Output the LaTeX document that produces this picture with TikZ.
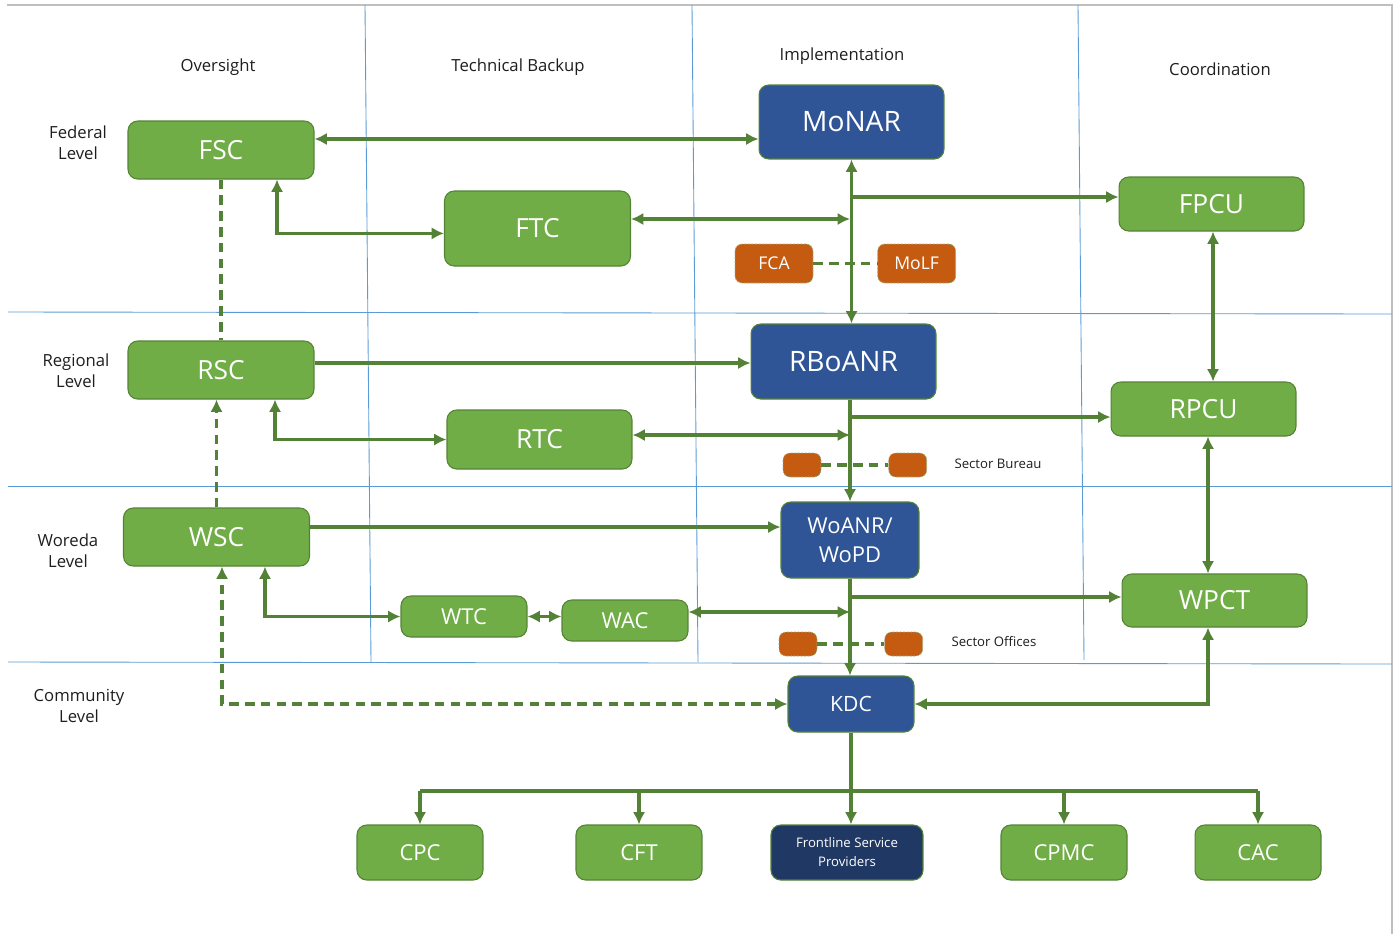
\documentclass[tikz,border=0pt]{standalone}
\usepackage{fontspec}
\setmainfont{Open Sans}
\usepackage{tikz}
\usetikzlibrary{arrows.meta,positioning}
\definecolor{leafgreen}{RGB}{112,173,71}
\definecolor{leafedge}{RGB}{84,130,53}
\definecolor{linkgreen}{RGB}{83,129,53}
\definecolor{ministry}{RGB}{47,85,151}
\definecolor{navy}{RGB}{32,56,100}
\definecolor{rust}{RGB}{197,90,17}
\definecolor{laneblue}{RGB}{91,155,213}
\definecolor{framegray}{RGB}{191,191,191}
\definecolor{labelgray}{RGB}{30,30,30}
\tikzstyle{committee} = [rectangle, rounded corners=5.5pt, draw=leafedge, line width=0.6pt, fill=leafgreen, text=white, align=center, inner sep=0pt, font=\fontsize{15}{18}\selectfont, minimum width=3.72cm, minimum height=1.16cm]
\tikzstyle{office} = [committee, fill=ministry, font=\fontsize{16}{19}\selectfont, minimum width=3.7cm, minimum height=1.48cm]
\tikzstyle{unit} = [committee, font=\fontsize{12.5}{15}\selectfont, minimum width=2.52cm, minimum height=0.82cm]
\tikzstyle{agency} = [rectangle, rounded corners=4pt, draw=leafedge!60, dash pattern=on 1.2pt off 0.8pt, line width=0.4pt, fill=rust, text=white, inner sep=0pt, font=\fontsize{10}{12}\selectfont, minimum width=1.56cm, minimum height=0.78cm]
\tikzstyle{lanelabel} = [draw=none, fill=none, text=labelgray, align=center, font=\fontsize{9.5}{12}\selectfont]
\tikzstyle{laneline} = [draw=laneblue, line width=0.5pt]
\tikzstyle{tedge} = [draw=linkgreen, line width=2.1pt, >={Latex[length=7pt,width=7pt]}]
\tikzstyle{dedge} = [tedge, dash pattern=on 5.5pt off 3.5pt]

\begin{document}
\begin{tikzpicture}[x=0.02cm, y=-0.02cm]
\useasboundingbox (0,0) rectangle (1396,934);

% lanes and levels =============================
\draw[framegray, line width=0.6pt] (7,5) -- (1392,5) -- (1392,934);
\draw[laneline] (365,5) -- (371,662);
\draw[laneline] (692,5) -- (698,662);
\draw[laneline] (1078,5) -- (1084,660);
\draw[laneline] (8,312) -- (1392,314);
\draw[laneline] (8,486) -- (1392,486);
\draw[laneline] (8,662) -- (1392,664);

\node[lanelabel] (oversight) at (218,67) {Oversight};
\node[lanelabel] (backup) at (518,67) {Technical Backup};
\node[lanelabel] (implement) at (842,56) {Implementation};
\node[lanelabel] (coordinate) at (1220,69) {Coordination};
\node[lanelabel] (federal) at (78,143) {Federal\\Level};
\node[lanelabel] (regional) at (76,371) {Regional\\Level};
\node[lanelabel] (woreda) at (68,551) {Woreda\\Level};
\node[lanelabel] (community) at (79,706) {Community\\Level};

% federal =============================
\node[committee] (fsc) at (221,150) {FSC};
\node[office] (monar) at (851.5,122) {MoNAR};
\node[committee, minimum height=1.5cm] (ftc) at (537.5,228.5) {FTC};
\node[committee, minimum width=3.7cm, minimum height=1.08cm] (fpcu) at (1211.5,204) {FPCU};
\node[agency] (fca) at (774,263.5) {FCA};
\node[agency, right=1.28cm of fca] (molf) {MoLF};

% regional =============================
\node[committee] (rsc) at (221,370) {RSC};
\node[office, minimum height=1.5cm] (rboanr) at (843.5,361.5) {RBoANR};
\node[committee, minimum width=3.7cm, minimum height=1.08cm] (rpcu) at (1203.5,409) {RPCU};
\node[committee, minimum width=3.7cm, minimum height=1.18cm] (rtc) at (539.5,439.5) {RTC};
\node[agency, minimum width=0.76cm, minimum height=0.48cm] (bureauA) at (802,465) {};
\node[agency, minimum width=0.76cm, minimum height=0.48cm, right=1.34cm of bureauA] (bureauB) {};
\node[lanelabel, font=\fontsize{7.5}{9}\selectfont] (bureau) at (998,464) {Sector Bureau};

% woreda =============================
\node[committee] (wsc) at (216.5,537) {WSC};
\node[office, minimum width=2.76cm, minimum height=1.52cm, font=\fontsize{12.5}{16.5}\selectfont] (woanr) at (850,540) {WoANR/\\WoPD};
\node[committee, minimum width=3.7cm, minimum height=1.06cm] (wpct) at (1214.5,600.5) {WPCT};
\node[unit] (wtc) at (464,616.5) {WTC};
\node[unit] (wac) at (625,620.5) {WAC};
\node[agency, minimum width=0.76cm, minimum height=0.48cm] (officeA) at (798,644) {};
\node[agency, minimum width=0.76cm, minimum height=0.48cm, right=1.34cm of officeA] (officeB) {};
\node[lanelabel, font=\fontsize{7.5}{9}\selectfont] (offices) at (994,642) {Sector Offices};

% community =============================
\node[office, minimum width=2.52cm, minimum height=1.12cm, font=\fontsize{12}{14}\selectfont] (kdc) at (851,704) {KDC};
\node[unit, minimum height=1.1cm] (cpc) at (420,852.5) {CPC};
\node[unit, minimum height=1.1cm] (cft) at (639,852.5) {CFT};
\node[office, fill=navy, minimum width=3.04cm, minimum height=1.1cm, font=\fontsize{7.5}{10.8}\selectfont] (fsp) at (847,852.5) {Frontline Service\\Providers};
\node[unit, minimum height=1.1cm] (cpmc) at (1064,852.5) {CPMC};
\node[unit, minimum height=1.1cm] (cac) at (1258,852.5) {CAC};

% junctions
\coordinate (hFM) at (0,139);
\coordinate (vFT) at (277,0);
\coordinate (sFTC) at (850,219);
\coordinate (sFPCU) at (850,197);
\coordinate (vPCU) at (1213,0);
\coordinate (hRR) at (0,363);
\coordinate (vRT) at (275,0);
\coordinate (sRTC) at (850,435);
\coordinate (sRPCU) at (850,417);
\coordinate (vPW) at (1208,0);
\coordinate (hWW) at (0,527);
\coordinate (vWT) at (265,0);
\coordinate (sWAC) at (850,612);
\coordinate (sWPCT) at (850,597);
\coordinate (vKW) at (222,0);
\coordinate (bus) at (851,791);

% edges
\path[tedge, <->] (fsc.east |- hFM) -- (monar.west |- hFM);
\path[dedge] (fsc.south) -- (rsc.north);
\path[tedge, <->] (fsc.south -| vFT) |- ([yshift=-2.8pt]ftc.west);
\path[tedge, <->] (ftc.east |- sFTC) -- (sFTC);
\path[tedge, <->] (monar.south) -- (monar.south |- rboanr.north);
\path[tedge, ->] (sFPCU) -- (fpcu.west |- sFPCU);
\path[dedge] (fca) -- (molf);
\path[tedge, <->] (fpcu.south -| vPCU) -- (rpcu.north -| vPCU);

\path[tedge, ->] (rsc.east |- hRR) -- (rboanr.west |- hRR);
\path[tedge, <->] (rsc.south -| vRT) |- (rtc.west);
\path[tedge, <->] (rtc.east |- sRTC) -- (sRTC);
\path[tedge, ->] (woanr.north |- rboanr.south) -- (woanr.north);
\path[tedge, ->] (sRPCU) -- (rpcu.west |- sRPCU);
\path[dedge] (bureauA) -- (bureauB);
\path[dedge, ->] (wsc.north) -- (wsc.north |- rsc.south);
\path[tedge, <->] (rpcu.south -| vPW) -- (wpct.north -| vPW);

\path[tedge, ->] (wsc.east |- hWW) -- (woanr.west |- hWW);
\path[tedge, <->] (wsc.south -| vWT) |- (wtc.west);
\path[tedge, <->] (wtc.east) -- (wtc.east -| wac.west);
\path[tedge, <->] (wac.east |- sWAC) -- (sWAC);
\path[tedge, ->] (woanr.south) -- (woanr.south |- kdc.north);
\path[tedge, ->] (sWPCT) -- (wpct.west |- sWPCT);
\path[dedge] (officeA) -- (officeB);
\path[dedge, <->] (kdc.west) -| (wsc.south -| vKW);
\path[tedge, <->] (kdc.east) -| (wpct.south -| vPW);

\path[tedge] (kdc.south) -- (kdc.south |- bus);
\path[tedge] (cpc.north |- bus) -- (cac.north |- bus);
\path[tedge, ->] (cpc.north |- bus) -- (cpc.north);
\path[tedge, ->] (cft.north |- bus) -- (cft.north);
\path[tedge, ->] (kdc.south |- bus) -- (kdc.south |- fsp.north);
\path[tedge, ->] (cpmc.north |- bus) -- (cpmc.north);
\path[tedge, ->] (cac.north |- bus) -- (cac.north);

\end{tikzpicture}
\end{document}
